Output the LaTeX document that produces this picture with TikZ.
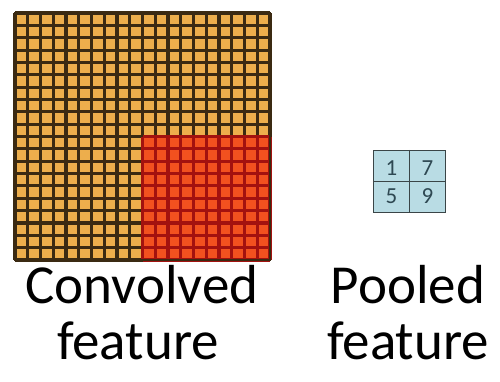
\documentclass[tikz,border=0pt]{standalone}
\usepackage{fontspec}
\setmainfont{Carlito}
\definecolor{cellor}{HTML}{EDAE4C}
\definecolor{cellred}{HTML}{F2511F}
\definecolor{lineor}{HTML}{3B2A12}
\definecolor{linered}{HTML}{A3120F}
\definecolor{poolfill}{HTML}{B9DCE4}
\definecolor{poolline}{HTML}{3A4547}
\definecolor{numcol}{HTML}{2E4852}
\tikzset{
  lbl/.style={anchor=base, font=\fontsize{55}{60}\selectfont, text=black, inner sep=0pt},
  num/.style={font=\fontsize{23}{24}\selectfont, text=numcol, inner sep=0pt},
  gline/.style={line width=3.1pt},
}
\begin{document}
\begin{tikzpicture}[x=1pt,y=-1pt]
\useasboundingbox (0,0) rectangle (500,381);
% convolved feature grid 20x20
\def\cw{12.75}\def\ch{12.35}
\fill[cellor] (15,13) rectangle (270,260);
\fill[cellred] (142.5,136.5) rectangle (270,260);
\foreach \i in {0,...,20} {
  \draw[lineor, gline] ({15+\i*\cw},13) -- ({15+\i*\cw},260);
  \draw[lineor, gline] (15,{13+\i*\ch}) -- (270,{13+\i*\ch});
}
\foreach \i in {10,...,20} {
  \draw[linered, gline] ({15+\i*\cw},136.5) -- ({15+\i*\cw},260);
  \draw[linered, gline] (142.5,{13+\i*\ch}) -- (270,{13+\i*\ch});
}
\draw[lineor, line width=2pt] (15,13) rectangle (270,260);
% pooled feature
\node[draw=poolline, fill=poolfill, line width=1.3pt, minimum width=72pt, minimum height=62pt, inner sep=0pt] (pool) at (409.5,181.5) {};
\draw[poolline, line width=1.3pt] (pool.north) -- (pool.south);
\draw[poolline, line width=1.3pt] (pool.west) -- (pool.east);
\node[num] (n1) at (391.5,168.5) {1};
\node[num] (n7) at (427.5,168.5) {7};
\node[num] (n5) at (391.5,196) {5};
\node[num] (n9) at (427.5,196) {9};
% labels
\node[lbl] (c1) at (142,303) {Convolved};
\node[lbl] (c2) at (138,359) {feature};
\node[lbl] (p1) at (408,303) {Pooled};
\node[lbl, anchor=base west] (p2) at (327,359) {feature};
\end{tikzpicture}
\end{document}
